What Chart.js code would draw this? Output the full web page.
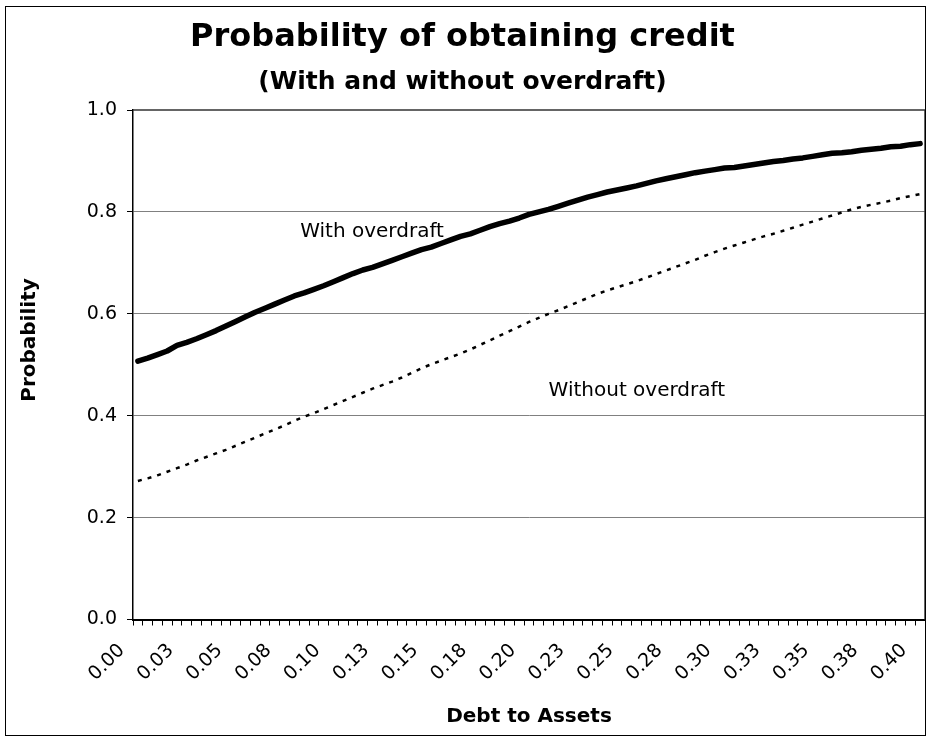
<!DOCTYPE html>
<html>
<head>
<meta charset="utf-8">
<title>Probability of obtaining credit</title>
<script src="https://cdn.jsdelivr.net/npm/chart.js@4.4.0/dist/chart.umd.min.js"></script>
<style>
body { margin: 0; background: #fff; }
#wrap { width: 927px; height: 738px; position: relative; }
</style>
</head>
<body>
<div id="wrap"><canvas id="myChart"></canvas></div>
<script>
// debt to assets runs 0.000 .. 0.400 in steps of 0.005, a label every 5th step
const tickLabels = ['0.00', '0.03', '0.05', '0.08', '0.10', '0.13', '0.15', '0.18', '0.20',
                    '0.23', '0.25', '0.28', '0.30', '0.33', '0.35', '0.38', '0.40'];

const withOverdraft = [
    0.507, 0.513, 0.520, 0.527, 0.538, 0.544, 0.551, 0.559, 0.567, 0.576,
    0.585, 0.594, 0.603, 0.611, 0.619, 0.627, 0.635, 0.641, 0.648, 0.655,
    0.663, 0.671, 0.679, 0.686, 0.691, 0.698, 0.705, 0.712, 0.719, 0.726,
    0.731, 0.738, 0.745, 0.752, 0.757, 0.764, 0.771, 0.777, 0.782, 0.788,
    0.795, 0.800, 0.805, 0.811, 0.817, 0.823, 0.829, 0.834, 0.839, 0.843,
    0.847, 0.851, 0.856, 0.861, 0.865, 0.869, 0.873, 0.877, 0.880, 0.883,
    0.886, 0.887, 0.890, 0.893, 0.896, 0.899, 0.901, 0.904, 0.906, 0.909,
    0.912, 0.915, 0.916, 0.918, 0.921, 0.923, 0.925, 0.928, 0.929, 0.932,
    0.934
];

const withoutOverdraft = [
    0.272, 0.277, 0.283, 0.290, 0.297, 0.304, 0.312, 0.319, 0.326, 0.333,
    0.341, 0.349, 0.357, 0.365, 0.373, 0.381, 0.390, 0.398, 0.405, 0.413,
    0.421, 0.429, 0.437, 0.445, 0.453, 0.460, 0.467, 0.475, 0.484, 0.493,
    0.501, 0.508, 0.515, 0.522, 0.530, 0.539, 0.548, 0.557, 0.566, 0.575,
    0.584, 0.592, 0.600, 0.607, 0.615, 0.623, 0.631, 0.639, 0.646, 0.652,
    0.658, 0.664, 0.671, 0.678, 0.685, 0.692, 0.699, 0.706, 0.714, 0.721,
    0.728, 0.734, 0.740, 0.746, 0.752, 0.757, 0.763, 0.769, 0.775, 0.781,
    0.787, 0.793, 0.799, 0.805, 0.810, 0.814, 0.818, 0.822, 0.827, 0.831,
    0.835
];

// in-chart labels, placed in data units (category index, probability)
const noteTexts = ['With overdraft', 'Without overdraft'];
const noteX = [16.6, 42.0];
const noteY = [0.761, 0.449];

const categories = withOverdraft.map((v, i) => i % 5 === 0 ? tickLabels[i / 5] : '');

Chart.defaults.font.family = '"DejaVu Sans", sans-serif';
Chart.defaults.color = '#000';

const extras = {
    id: 'extras',
    beforeDraw(chart) {
        const ctx = chart.ctx;
        ctx.save();
        ctx.fillStyle = '#fff';
        ctx.fillRect(0, 0, chart.width, chart.height);
        ctx.restore();
    },
    afterDraw(chart) {
        const ctx = chart.ctx;
        const a = chart.chartArea;
        ctx.save();
        // top + right edge of the plot box
        ctx.strokeStyle = '#333';
        ctx.lineWidth = 1.5;
        ctx.beginPath();
        ctx.moveTo(a.left, a.top);
        ctx.lineTo(a.right, a.top);
        ctx.lineTo(a.right, a.bottom);
        ctx.stroke();
        // frame round the whole chart
        ctx.strokeStyle = '#000';
        ctx.lineWidth = 1;
        ctx.strokeRect(5.5, 6.5, chart.width - 7, chart.height - 9);

        ctx.fillStyle = '#000';
        ctx.textBaseline = 'middle';
        ctx.textAlign = 'left';
        ctx.font = '20px "DejaVu Sans"';
        noteTexts.forEach((t, k) => {
            ctx.fillText(t, chart.scales.x.getPixelForValue(noteX[k]), chart.scales.y.getPixelForValue(noteY[k]));
        });

        ctx.font = 'bold 20px "DejaVu Sans"';
        ctx.textAlign = 'center';
        ctx.fillText('Debt to Assets', (a.left + a.right) / 2, 717);
        ctx.translate(30, 340);
        ctx.rotate(-Math.PI / 2);
        ctx.fillText('Probability', 0, 0);
        ctx.restore();
    }
};

const ctx = document.getElementById('myChart').getContext('2d');
const myChart = new Chart(ctx, {
    type: 'line',
    data: {
        labels: categories,
        datasets: [{
            label: 'With overdraft',
            data: withOverdraft,
            borderColor: '#000',
            borderWidth: 5.5,
            borderJoinStyle: 'round',
            borderCapStyle: 'round',
            pointRadius: 0,
            fill: false,
            tension: 0
        }, {
            label: 'Without overdraft',
            data: withoutOverdraft,
            borderColor: '#000',
            borderWidth: 2.5,
            borderDash: [4, 6],
            pointRadius: 0,
            fill: false,
            tension: 0
        }]
    },
    options: {
        responsive: true,
        maintainAspectRatio: false,
        animation: false,
        layout: { padding: { left: 0, right: 2, top: 0, bottom: 0 } },
        plugins: {
            legend: { display: false },
            tooltip: { enabled: false },
            title: {
                display: true,
                text: 'Probability of obtaining credit',
                color: '#000',
                font: { size: 32, weight: 'bold' },
                padding: { top: 18, bottom: 0 }
            },
            subtitle: {
                display: true,
                text: '(With and without overdraft)',
                color: '#000',
                font: { size: 25, weight: 'bold' },
                padding: { top: 11, bottom: 12.6 }
            }
        },
        scales: {
            x: {
                type: 'category',
                offset: true,
                grid: {
                    offset: true,
                    drawOnChartArea: false,
                    drawTicks: true,
                    tickLength: 6,
                    color: '#000',
                    tickColor: '#000'
                },
                border: { color: '#000', width: 2 },
                ticks: {
                    autoSkip: false,
                    minRotation: 45,
                    maxRotation: 45,
                    color: '#000',
                    font: { size: 19 },
                    padding: 14,
                    labelOffset: -16
                },
                afterFit(scale) {
                    scale.height = 118.5;
                    scale.paddingLeft = 0;
                    scale.paddingRight = 0;
                }
            },
            y: {
                min: 0,
                max: 1,
                grid: {
                    color: c => (c.tick.value === 0 || c.tick.value === 1) ? 'rgba(0,0,0,0)' : '#808080',
                    tickColor: '#000',
                    tickLength: 6
                },
                border: { color: '#000', width: 1.5 },
                ticks: {
                    stepSize: 0.2,
                    color: '#000',
                    font: { size: 19 },
                    padding: 10,
                    callback: v => v.toFixed(1)
                },
                afterFit(scale) { scale.width = 133; }
            }
        }
    },
    plugins: [extras]
});
</script>
</body>
</html>
